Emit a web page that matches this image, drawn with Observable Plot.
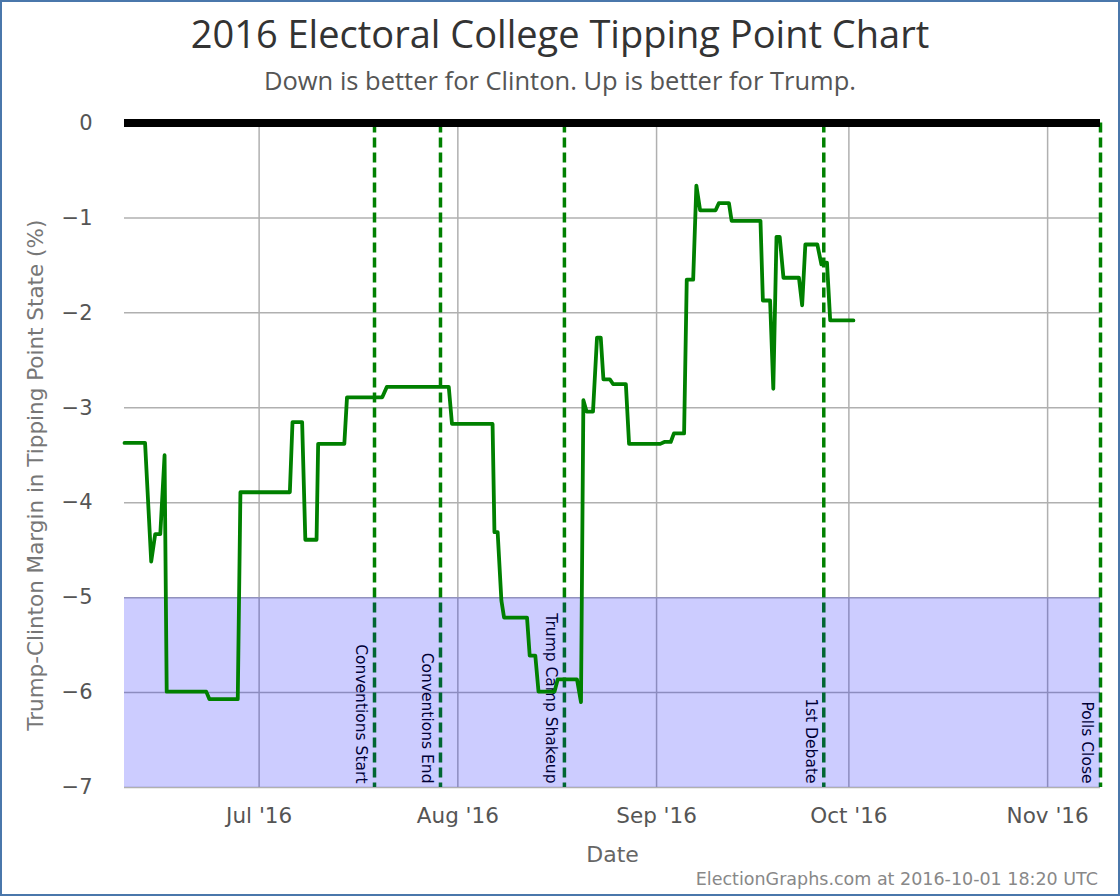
<!DOCTYPE html>
<html>
<head>
<meta charset="utf-8">
<script src="https://cdn.jsdelivr.net/npm/d3@7"></script>
<script src="https://cdn.jsdelivr.net/npm/@observablehq/plot@0.6"></script>
<style>
html, body { margin: 0; padding: 0; background: #fff; }
#frame { position: relative; width: 1120px; height: 896px; box-sizing: border-box; box-shadow: inset 0 0 0 2px #4a77ab; overflow: hidden; background: #fff; }
#title { position: absolute; left: 0; top: 14px; width: 100%; text-align: center; font-family: "Open Sans"; font-size: 38px; line-height: 38px; color: #333; white-space: nowrap; }
#subtitle { position: absolute; left: 0; top: 68px; width: 100%; text-align: center; font-family: "Open Sans"; font-size: 25.5px; line-height: 25.5px; color: #555; white-space: nowrap; }
#chart { position: absolute; left: 0; top: 100px; }
#footer { position: absolute; right: 22px; top: 871px; font-family: "DejaVu Sans"; font-size: 17.5px; line-height: 17.5px; color: #888; white-space: nowrap; }
</style>
</head>
<body>
<div id="frame">
  <div id="title">2016 Electoral College Tipping Point Chart</div>
  <div id="subtitle">Down is better for Clinton. Up is better for Trump.</div>
  <div id="chart"></div>
  <div id="footer">ElectionGraphs.com at 2016-10-01 18:20 UTC</div>
</div>
<script>
// Tipping point margin (Trump - Clinton, %) over time
const dates = [
  "2016-06-10T00:00Z", "2016-06-13T05:00Z", "2016-06-14T04:00Z", "2016-06-14T19:00Z", "2016-06-15T14:00Z",
  "2016-06-16T06:00Z", "2016-06-16T14:00Z", "2016-06-22T18:00Z", "2016-06-23T06:00Z", "2016-06-27T16:00Z",
  "2016-06-28T02:00Z", "2016-07-05T19:00Z", "2016-07-06T05:00Z", "2016-07-07T17:00Z", "2016-07-08T05:00Z",
  "2016-07-09T23:00Z", "2016-07-10T05:00Z", "2016-07-14T07:00Z", "2016-07-14T17:00Z", "2016-07-20T05:00Z",
  "2016-07-20T22:00Z", "2016-07-30T14:00Z", "2016-07-31T02:00Z", "2016-08-06T10:00Z", "2016-08-06T17:00Z",
  "2016-08-07T05:00Z", "2016-08-07T19:00Z", "2016-08-08T05:00Z", "2016-08-11T19:00Z", "2016-08-12T05:00Z",
  "2016-08-13T02:00Z", "2016-08-13T14:00Z", "2016-08-16T02:00Z", "2016-08-16T14:00Z", "2016-08-19T14:00Z",
  "2016-08-20T05:00Z", "2016-08-20T14:00Z", "2016-08-21T02:00Z", "2016-08-22T02:00Z", "2016-08-22T17:00Z",
  "2016-08-23T07:00Z", "2016-08-23T17:00Z", "2016-08-24T17:00Z", "2016-08-25T05:00Z", "2016-08-27T05:00Z",
  "2016-08-27T17:00Z", "2016-09-01T14:00Z", "2016-09-02T05:00Z", "2016-09-03T05:00Z", "2016-09-03T17:00Z",
  "2016-09-05T07:00Z", "2016-09-05T17:00Z", "2016-09-06T17:00Z", "2016-09-07T05:00Z", "2016-09-07T19:00Z",
  "2016-09-10T05:00Z", "2016-09-10T17:00Z", "2016-09-12T07:00Z", "2016-09-12T17:00Z", "2016-09-17T05:00Z",
  "2016-09-17T14:00Z", "2016-09-18T17:00Z", "2016-09-19T05:00Z", "2016-09-19T17:00Z", "2016-09-20T05:00Z",
  "2016-09-20T19:00Z", "2016-09-23T05:00Z", "2016-09-23T17:00Z", "2016-09-24T05:00Z", "2016-09-26T02:00Z",
  "2016-09-26T17:00Z", "2016-09-27T05:00Z", "2016-09-27T14:00Z", "2016-09-28T02:00Z", "2016-10-01T17:00Z"
];
const margins = [
  -3.37, -3.37, -4.62, -4.33, -4.33,
  -3.50, -5.99, -5.99, -6.07, -6.07,
  -3.89, -3.89, -3.15, -3.15, -4.39,
  -4.39, -3.38, -3.38, -2.89, -2.89,
  -2.78, -2.78, -3.17, -3.17, -4.31,
  -4.31, -5.03, -5.21, -5.21, -5.61,
  -5.61, -5.99, -5.99, -5.86, -5.86,
  -6.10, -2.92, -3.04, -3.04, -2.26,
  -2.26, -2.70, -2.70, -2.75, -2.75,
  -3.38, -3.38, -3.36, -3.36, -3.27,
  -3.27, -1.65, -1.65, -0.66, -0.92,
  -0.92, -0.845, -0.845, -1.03, -1.03,
  -1.87, -1.87, -2.80, -1.20, -1.20,
  -1.63, -1.63, -1.92, -1.28, -1.28,
  -1.49, -1.47, -1.47, -2.08, -2.08
];

// Events
const eventDates = ["2016-07-19T00:00Z", "2016-07-29T07:00Z", "2016-08-17T15:00Z", "2016-09-27T02:00Z", "2016-11-09T06:00Z"];
const eventLabels = ["Conventions Start", "Conventions End", "Trump Camp Shakeup", "1st Debate", "Polls Close"];

// Axes
const xDomain = ["2016-06-10T00:00Z", "2016-11-09T06:00Z"];
const monthTicks = ["2016-07-01", "2016-08-01", "2016-09-01", "2016-10-01", "2016-11-01"];
const yTicks = [0, -1, -2, -3, -4, -5, -6, -7];
const yLabel = "Trump-Clinton Margin in Tipping Point State (%)";
// Clinton > 5% band
const bandRange = [-7, -5];

const data = dates.map((d, i) => ({date: new Date(d), margin: margins[i]}));
const events = eventDates.map((d, i) => ({date: new Date(d), label: eventLabels[i]}));
const months = monthTicks.map(d => new Date(d + "T00:00Z"));
const xdom = xDomain.map(d => new Date(d));
const band = [{x1: xdom[0], x2: xdom[1], y1: bandRange[0], y2: bandRange[1]}];

const chart = Plot.plot({
  width: 1120,
  height: 766,
  marginTop: 22.5,
  marginBottom: 79,
  marginLeft: 124,
  marginRight: 20,
  style: {fontFamily: "DejaVu Sans", fontSize: "20px", color: "#555", background: "transparent", overflow: "visible"},
  x: {type: "utc", domain: xdom},
  y: {domain: [-7, 0]},
  marks: [
    Plot.ruleY(yTicks.filter(v => v !== 0), {stroke: "#b0b0b0", strokeWidth: 1.5}),
    Plot.ruleX(months, {stroke: "#b0b0b0", strokeWidth: 1.5}),
    Plot.ruleX(events, {x: "date", stroke: "#008000", strokeWidth: 3.5, strokeDasharray: "10,5"}),
    Plot.text(events, {x: "date", frameAnchor: "bottom", text: "label", rotate: 90, textAnchor: "end", lineAnchor: "top", dx: -7, dy: -4, fill: "black", fontSize: 15.5, fontFamily: "DejaVu Sans"}),
    Plot.rect(band, {x1: "x1", x2: "x2", y1: "y1", y2: "y2", fill: "blue", fillOpacity: 0.2}),
    Plot.line(data, {x: "date", y: "margin", stroke: "#008000", strokeWidth: 3.8}),
    Plot.ruleY([0], {stroke: "black", strokeWidth: 8}),
    Plot.axisX({ticks: months, tickFormat: d3.utcFormat("%b '%y"), tickSize: 0, tickPadding: 20, label: null, fontSize: 21.5, fill: "#555"}),
    Plot.axisX({ticks: [], label: "Date", labelAnchor: "center", labelArrow: "none", labelOffset: 74, fontSize: 22, fill: "#666"}),
    Plot.axisY({ticks: yTicks, tickFormat: d3.format("d"), tickSize: 0, tickPadding: 32, label: null, fontSize: 21, fill: "#555"}),
    Plot.text([yLabel], {frameAnchor: "left", text: d => d, rotate: -90, lineAnchor: "top", textAnchor: "middle", dx: -97, dy: 20, fontSize: 21.5, fill: "#777", fontFamily: "DejaVu Sans"})
  ]
});
document.getElementById("chart").appendChild(chart);
</script>
</body>
</html>
